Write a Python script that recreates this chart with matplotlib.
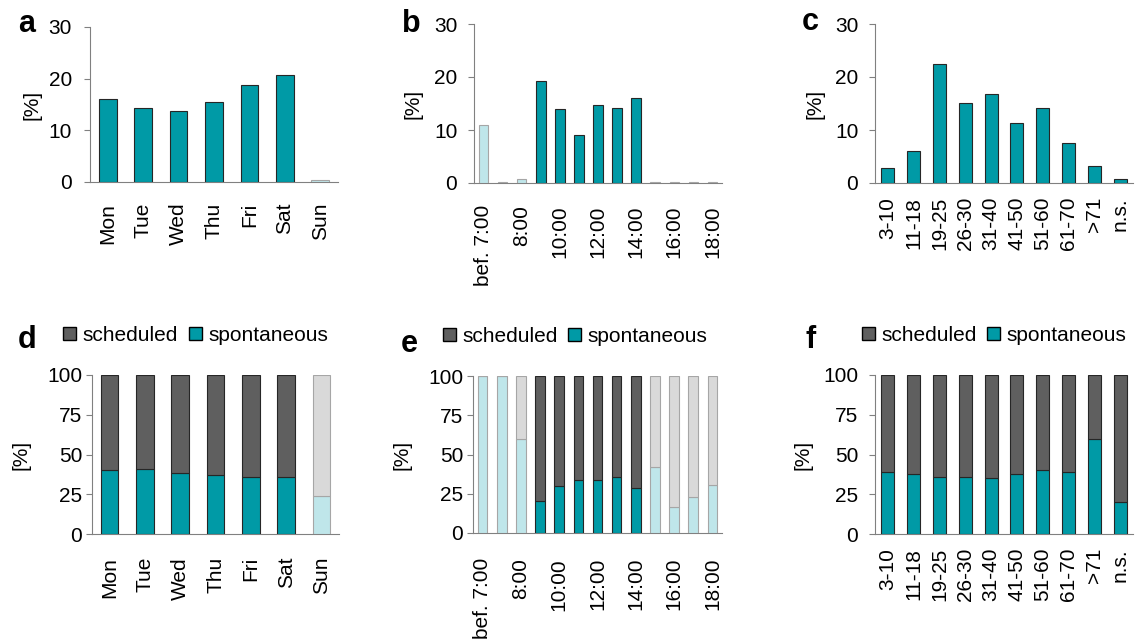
import matplotlib
matplotlib.use("Agg")
import matplotlib.pyplot as plt
from matplotlib.patches import Patch

plt.rcParams['font.family'] = ['Liberation Sans', 'DejaVu Sans']

# ---------------- data ----------------
days = ['Mon', 'Tue', 'Wed', 'Thu', 'Fri', 'Sat', 'Sun']
share_day = [16.1, 14.3, 13.8, 15.5, 18.8, 20.8, 0.3]
spont_day = [40.1, 40.8, 38.2, 37.0, 35.7, 35.7, 23.7]
muted_day = ['Sun']

hours = ['bef. 7:00', '7:00', '8:00', '9:00', '10:00', '11:00', '12:00',
         '13:00', '14:00', '15:00', '16:00', '17:00', '18:00']
hour_ticklabels = ['bef. 7:00', '8:00', '10:00', '12:00', '14:00', '16:00', '18:00']
share_hour = [10.9, 0.1, 0.75, 19.2, 14.0, 9.1, 14.8, 14.2, 16.0, 0.25, 0.1, 0.1, 0.1]
spont_hour = [100, 100, 59.7, 20.1, 30.1, 33.5, 33.5, 35.6, 28.8, 41.9, 16.5, 22.7, 30.5]
muted_hour = ['bef. 7:00', '7:00', '8:00', '15:00', '16:00', '17:00', '18:00']

ages = ['3-10', '11-18', '19-25', '26-30', '31-40', '41-50', '51-60', '61-70', '>71', 'n.s.']
share_age = [2.9, 6.0, 22.4, 15.1, 16.8, 11.4, 14.1, 7.5, 3.15, 0.7]
spont_age = [39.3, 37.6, 35.7, 35.7, 35.1, 37.6, 40.1, 38.7, 59.7, 20.4]
muted_age = []

# ---------------- styles ----------------
TEAL = '#009AA6'
TEAL_L = '#BFE6EA'
GREY = '#5F5F5F'
GREY_L = '#D9D9D9'
EDGE = '#262626'
EDGE_L = '#A6A6A6'
SPINE = '#808080'
FS = 15

W, H = 1147, 644
fig = plt.figure(figsize=(W / 100, H / 100), dpi=100)


def px_axes(left, right, top, bottom):
    return fig.add_axes([left / W, 1 - bottom / H, (right - left) / W, (bottom - top) / H])


def style(ax, n, ymax, yticks, ypad, xpad, ylab_x):
    ax.set_xlim(-0.5, n - 0.5)
    ax.set_ylim(0, ymax)
    ax.set_yticks(yticks)
    for s in ['top', 'right']:
        ax.spines[s].set_visible(False)
    for s in ['left', 'bottom']:
        ax.spines[s].set_color(SPINE)
        ax.spines[s].set_linewidth(0.8)
    ax.tick_params(axis='y', direction='out', length=4, width=0.8, color=SPINE,
                   labelsize=FS, pad=ypad)
    ax.tick_params(axis='x', length=0, labelsize=FS, pad=xpad)
    ax.set_ylabel('[%]', fontsize=FS)
    ax.yaxis.set_label_coords(ylab_x, 0.5)


def simple_bars(ax, cats, vals, muted):
    x = list(range(len(cats)))
    colors = [TEAL_L if c in muted else TEAL for c in cats]
    edges = [EDGE_L if c in muted else EDGE for c in cats]
    ax.bar(x, vals, width=0.5, color=colors, edgecolor=edges, linewidth=0.8, zorder=3)


def stacked_bars(ax, cats, spont, muted):
    x = list(range(len(cats)))
    sched = [100 - v for v in spont]
    c1 = [TEAL_L if c in muted else TEAL for c in cats]
    c2 = [GREY_L if c in muted else GREY for c in cats]
    edges = [EDGE_L if c in muted else EDGE for c in cats]
    ax.bar(x, spont, width=0.5, color=c1, edgecolor=edges, linewidth=0.8, zorder=3)
    ax.bar(x, sched, bottom=spont, width=0.5, color=c2, edgecolor=edges, linewidth=0.8, zorder=3)


def add_legend(ax, xa, ya):
    handles = [Patch(facecolor=GREY, edgecolor='black', linewidth=1.0, label='scheduled'),
               Patch(facecolor=TEAL, edgecolor='black', linewidth=1.0, label='spontaneous')]
    ax.legend(handles=handles, loc='center left', bbox_to_anchor=(xa, ya), ncol=2,
              frameon=False, fontsize=FS, handlelength=0.62, handleheight=0.62,
              handletextpad=0.32, columnspacing=0.5, borderpad=0, borderaxespad=0)


# ---- a ----
ax = px_axes(90, 338, 27, 182)
simple_bars(ax, days, share_day, muted_day)
ax.set_xticks(range(len(days)))
ax.set_xticklabels(days, rotation=90, va='top')
style(ax, len(days), 30, [0, 10, 20, 30], 9, 15, -0.194)

# ---- b ----
ax = px_axes(474, 722, 24, 183)
simple_bars(ax, hours, share_hour, muted_hour)
ax.set_xticks([hours.index(h) for h in hour_ticklabels])
ax.set_xticklabels(hour_ticklabels, rotation=90, va='top')
style(ax, len(hours), 30, [0, 10, 20, 30], 8, 16, -0.207)

# ---- c ----
ax = px_axes(875, 1133, 24, 183)
simple_bars(ax, ages, share_age, muted_age)
ax.set_xticks(range(len(ages)))
ax.set_xticklabels(ages, rotation=90, va='top')
style(ax, len(ages), 30, [0, 10, 20, 30], 8, 10, -0.194)

# ---- d ----
ax = px_axes(92, 339, 375, 534)
stacked_bars(ax, days, spont_day, muted_day)
ax.set_xticks(range(len(days)))
ax.set_xticklabels(days, rotation=90, va='top')
style(ax, len(days), 100, [0, 25, 50, 75, 100], 3, 16.5, -0.249)
add_legend(ax, -0.116, 1.248)

# ---- e ----
ax = px_axes(473, 722, 376, 533)
stacked_bars(ax, hours, spont_hour, muted_hour)
ax.set_xticks([hours.index(h) for h in hour_ticklabels])
ax.set_xticklabels(hour_ticklabels, rotation=90, va='top')
style(ax, len(hours), 100, [0, 25, 50, 75, 100], 3, 18, -0.247)
add_legend(ax, -0.121, 1.254)

# ---- f ----
ax = px_axes(875, 1133, 375, 534)
stacked_bars(ax, ages, spont_age, muted_age)
ax.set_xticks(range(len(ages)))
ax.set_xticklabels(ages, rotation=90, va='top')
style(ax, len(ages), 100, [0, 25, 50, 75, 100], 8, 10, -0.241)
add_legend(ax, -0.052, 1.248)

# ---- panel letters ----
for letter, x, y in [('a', 18, 32), ('b', 402, 32), ('c', 802, 30),
                     ('d', 18, 348), ('e', 401, 352), ('f', 805, 348)]:
    fig.text(x / W, 1 - y / H, letter, fontsize=22, fontweight='bold',
             ha='left', va='baseline')

fig.savefig('out.png', dpi=100)
